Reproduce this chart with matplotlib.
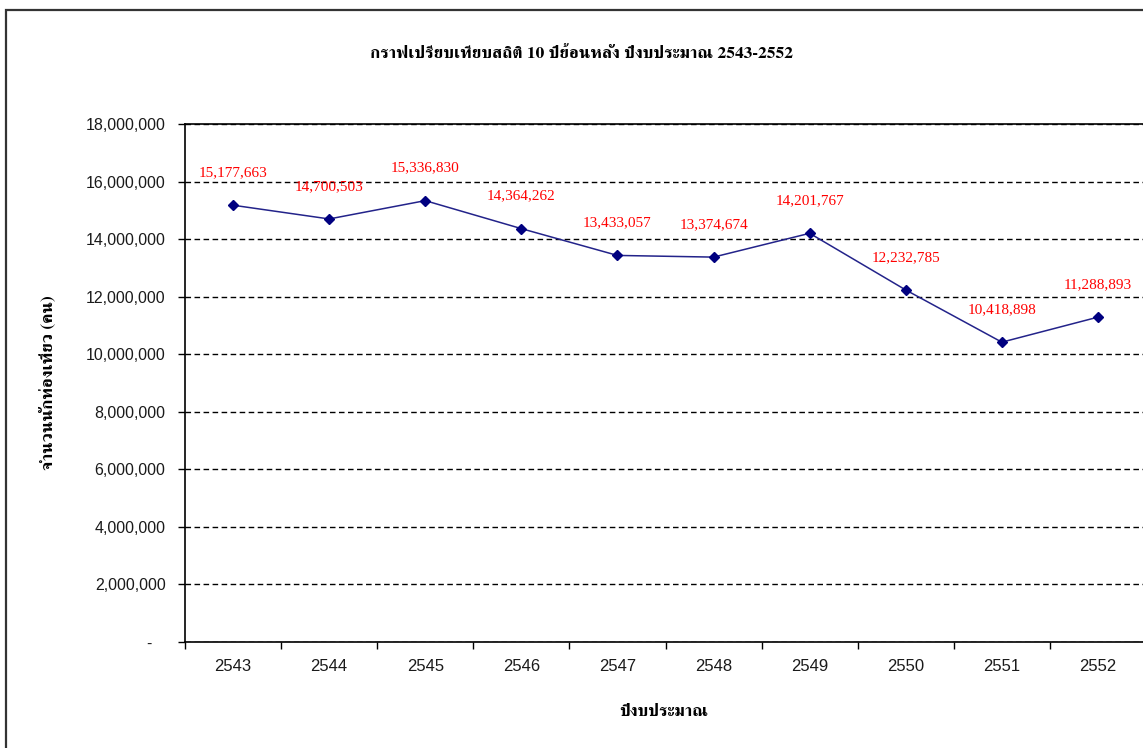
import matplotlib
matplotlib.use("Agg")
import matplotlib.pyplot as plt
from matplotlib.patches import Rectangle
import numpy as np

# data
YEARS = ['2543', '2544', '2545', '2546', '2547', '2548', '2549', '2550', '2551', '2552']
TOURISTS = [15177663, 14700503, 15336830, 14364262, 13433057,
            13374674, 14201767, 12232785, 10418898, 11288893]
Y_TICKS = [0, 2000000, 4000000, 6000000, 8000000, 10000000,
           12000000, 14000000, 16000000, 18000000]

TITLE = 'กราฟเปรียบเทียบสถิติ 10 ปีย้อนหลัง ปีงบประมาณ 2543-2552'
XLAB = 'ปีงบประมาณ'
YLAB = 'จำนวนนักท่องเที่ยว (คน)'

THAI = ['FreeSerif', 'Noto Serif Thai', 'DejaVu Serif']

W, H = 1143, 748
fig = plt.figure(figsize=(W / 100, H / 100), dpi=100)

# outer chart border (only left and top fall inside the picture)
fig.patches.append(Rectangle((6 / W, -0.05), 1.2, 1 - 10 / H + 0.05,
                             transform=fig.transFigure, fill=False,
                             edgecolor='#333333', linewidth=1.6))

ax = fig.add_axes([185 / W, (H - 642) / H, (1146 - 185) / W, (642 - 124) / H])

x = np.arange(len(YEARS))
ax.plot(x, TOURISTS, color='#23238a', linewidth=1.1, marker='D',
        markersize=5, markerfacecolor='#000080', markeredgecolor='#000080')

for xi, v in zip(x, TOURISTS):
    ax.annotate('{:,}'.format(v), xy=(xi, v), xytext=(0, 23.5),
                textcoords='offset points', ha='center', va='center',
                color='#ff0000', fontsize=11, family='Liberation Serif')

ax.set_xlim(-0.5, len(YEARS) - 0.5)
ax.set_ylim(0, 18000000)

ax.set_yticks(Y_TICKS)
ax.set_yticklabels(['-   ' if t == 0 else '{:,}'.format(t) for t in Y_TICKS],
                   family='Liberation Sans', fontsize=11.5, color='#1a1a1a')
ax.tick_params(axis='y', direction='out', length=5, width=1, pad=9)

ax.set_xticks(np.arange(-0.5, len(YEARS)), minor=False)
ax.set_xticklabels([])
ax.set_xticks(x, minor=True)
ax.set_xticklabels(YEARS, minor=True, family='Liberation Sans',
                   fontsize=12, color='#1a1a1a')
ax.tick_params(axis='x', which='major', direction='out', length=5, width=1)
ax.tick_params(axis='x', which='minor', length=0, pad=12)

ax.grid(axis='y', color='black', linestyle=(0, (4, 2.5)), linewidth=1)
ax.set_axisbelow(True)

for s in ['left', 'bottom', 'top']:
    ax.spines[s].set_color('black')
    ax.spines[s].set_linewidth(1.2)
ax.spines['right'].set_visible(False)

fig.text(581 / W, 1 - 53 / H, TITLE, ha='center', va='center',
         fontsize=12.5, fontweight='bold', family=THAI)
fig.text(664 / W, 1 - 712 / H, XLAB, ha='center', va='center',
         fontsize=12.5, fontweight='bold', family=THAI)
fig.text(47 / W, 1 - 383 / H, YLAB, ha='center', va='center', rotation=90,
         fontsize=12.5, fontweight='bold', family=THAI)

fig.savefig('out.png', dpi=100)
